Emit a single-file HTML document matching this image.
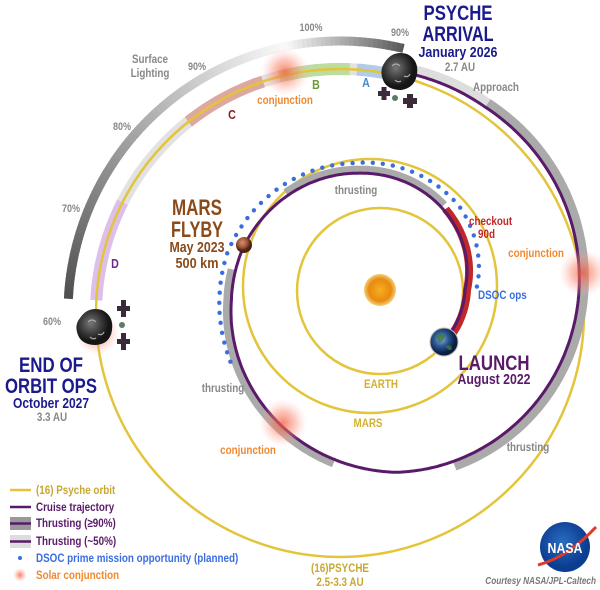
<!DOCTYPE html>
<html><head><meta charset="utf-8">
<style>
html,body{margin:0;padding:0;background:#fff;}
svg{display:block;}
text{font-family:"Liberation Sans",sans-serif;font-weight:bold;}
</style></head>
<body>
<svg id="s" width="600" height="590" viewBox="0 0 600 590" xmlns="http://www.w3.org/2000/svg">
<defs>
<radialGradient id="glow"><stop offset="0" stop-color="#f25a3a" stop-opacity="0.75"/><stop offset="0.5" stop-color="#f7856a" stop-opacity="0.45"/><stop offset="1" stop-color="#fbb" stop-opacity="0"/></radialGradient>
<radialGradient id="sun"><stop offset="0" stop-color="#f6b020"/><stop offset="0.7" stop-color="#e88a10"/><stop offset="1" stop-color="#f0c050" stop-opacity="0.8"/></radialGradient>
<radialGradient id="earth" cx="0.4" cy="0.4"><stop offset="0" stop-color="#8fb0d8"/><stop offset="0.5" stop-color="#2c5a98"/><stop offset="1" stop-color="#0c1e40"/></radialGradient>
<radialGradient id="mars" cx="0.4" cy="0.35"><stop offset="0" stop-color="#d89070"/><stop offset="0.6" stop-color="#a0583a"/><stop offset="1" stop-color="#4a2412"/></radialGradient>
<radialGradient id="ast" cx="0.4" cy="0.4"><stop offset="0" stop-color="#777"/><stop offset="0.6" stop-color="#3a3a3a"/><stop offset="1" stop-color="#151515"/></radialGradient>
<radialGradient id="nasa" cx="0.45" cy="0.4"><stop offset="0" stop-color="#2a6cc0"/><stop offset="1" stop-color="#0b3d91"/></radialGradient>
</defs>
<g id="g"></g>

<circle cx="285" cy="72" r="24" fill="url(#glow)"/>
<circle cx="583" cy="273" r="24" fill="url(#glow)"/>
<circle cx="283" cy="423" r="24" fill="url(#glow)"/>
<circle cx="97" cy="333" r="22" fill="url(#glow)"/>
<g id="g2"></g>

<circle cx="380" cy="290" r="16" fill="url(#sun)"/>
<circle cx="444" cy="342" r="14" fill="url(#earth)" stroke="#bbb" stroke-width="1"/>
<path d="M436,336 q5,-4 9,0 q-2,6 -6,7z M446,346 q5,-2 6,3 q-4,3 -6,-3z" fill="#3f7a3a" opacity="0.8"/>
<circle cx="244" cy="245" r="8" fill="url(#mars)"/>
<path d="M385,62 q8,-12 22,-8 q12,6 10,20 q-2,14 -16,16 q-14,0 -18,-10 q-4,-10 2,-18z" fill="url(#ast)"/>
<path d="M392,66 q4,-4 8,0 M404,76 q4,2 6,-2 M395,80 q3,3 6,1" stroke="#aaa" stroke-width="1.2" fill="none"/>
<path d="M80,318 q8,-12 22,-8 q12,6 10,20 q-2,14 -16,15 q-14,0 -18,-10 q-4,-10 2,-17z" fill="url(#ast)"/>
<path d="M88,322 q4,-4 8,0 M98,334 q4,2 6,-2 M90,337 q3,3 6,1" stroke="#aaa" stroke-width="1.2" fill="none"/>
<g fill="#3a2a3a">
<rect x="378" y="91" width="12" height="5"/><rect x="381.5" y="87" width="5" height="13"/>
<rect x="403" y="98" width="14" height="6"/><rect x="407" y="94" width="6" height="14"/>
<rect x="117" y="306" width="13" height="5"/><rect x="121" y="300" width="5" height="17"/>
<rect x="117" y="339" width="13" height="5"/><rect x="121" y="333" width="5" height="17"/>
</g>
<circle cx="395" cy="98" r="3" fill="#5a7a6a"/>
<circle cx="122" cy="325" r="3" fill="#5a7a6a"/>

<g fill="#888" font-size="11" text-anchor="middle">
<text x="311" y="31">100%</text>
<text x="400" y="36">90%</text>
<text x="197" y="70">90%</text>
<text x="122" y="130">80%</text>
<text x="71" y="212">70%</text>
<text x="52" y="325">60%</text>
<text x="150" y="63" font-size="12">Surface</text>
<text x="150" y="77" font-size="12">Lighting</text>
<text x="496" y="91" font-size="12">Approach</text>
<text x="356" y="194" font-size="12">thrusting</text>
<text x="223" y="392" font-size="12">thrusting</text>
<text x="528" y="451" font-size="12">thrusting</text>
<text x="460" y="71" font-size="12">2.7 AU</text>
<text x="52" y="421" font-size="12">3.3 AU</text>
</g>
<g text-anchor="middle" font-size="13">
<text x="366" y="87" fill="#4a8ad0">A</text>
<text x="316" y="89" fill="#6a9a3a">B</text>
<text x="232" y="119" fill="#8a1a1a">C</text>
<text x="115" y="268" fill="#6a2a8a">D</text>
</g>
<g fill="#f08a30" font-size="12" text-anchor="middle">
<text x="285" y="104">conjunction</text>
<text x="536" y="257">conjunction</text>
<text x="248" y="454">conjunction</text>
</g>
<text x="469" y="225" fill="#c0282a" font-size="12">checkout</text>
<text x="478" y="238" fill="#c0282a" font-size="12">90d</text>
<text x="478" y="299" fill="#3a6ee0" font-size="12">DSOC ops</text>
<text x="381" y="388" fill="#d4b030" font-size="12" text-anchor="middle">EARTH</text>
<text x="368" y="427" fill="#d4b030" font-size="12" text-anchor="middle">MARS</text>

<g fill="#1a1a8c" text-anchor="middle" lengthAdjust="spacingAndGlyphs">
<text x="458" y="20" font-size="21" textLength="69" lengthAdjust="spacingAndGlyphs">PSYCHE</text>
<text x="458" y="41" font-size="21" textLength="71" lengthAdjust="spacingAndGlyphs">ARRIVAL</text>
<text x="458" y="57" font-size="15" textLength="79" lengthAdjust="spacingAndGlyphs">January 2026</text>
<text x="51" y="372" font-size="21" textLength="64" lengthAdjust="spacingAndGlyphs">END OF</text>
<text x="51" y="393" font-size="21" textLength="92" lengthAdjust="spacingAndGlyphs">ORBIT OPS</text>
<text x="51" y="408" font-size="15" textLength="76" lengthAdjust="spacingAndGlyphs">October 2027</text>
</g>
<g fill="#8a4a1a" text-anchor="middle">
<text x="197" y="215" font-size="22" textLength="50" lengthAdjust="spacingAndGlyphs">MARS</text>
<text x="197" y="237" font-size="22" textLength="52" lengthAdjust="spacingAndGlyphs">FLYBY</text>
<text x="197" y="252" font-size="15" textLength="55" lengthAdjust="spacingAndGlyphs">May 2023</text>
<text x="197" y="268" font-size="15" textLength="43" lengthAdjust="spacingAndGlyphs">500 km</text>
</g>
<g fill="#5a1a6a" text-anchor="middle">
<text x="494" y="370" font-size="21" textLength="71" lengthAdjust="spacingAndGlyphs">LAUNCH</text>
<text x="494" y="384" font-size="15" textLength="73" lengthAdjust="spacingAndGlyphs">August 2022</text>
</g>

<line x1="10" y1="490" x2="31" y2="490" stroke="#e3c43a" stroke-width="2.5"/>
<line x1="10" y1="507" x2="31" y2="507" stroke="#5a1a6a" stroke-width="2.5"/>
<rect x="10" y="517" width="21" height="13" fill="#999"/>
<line x1="10" y1="523.5" x2="31" y2="523.5" stroke="#5a1a6a" stroke-width="2.5"/>
<rect x="10" y="535" width="21" height="13" fill="#ddd"/>
<line x1="10" y1="541.5" x2="31" y2="541.5" stroke="#5a1a6a" stroke-width="2.5"/>
<circle cx="20" cy="558" r="2" fill="#3a6ee0"/>
<circle cx="20" cy="575" r="7" fill="url(#glow)"/>
<g font-size="12">
<text x="36" y="494" fill="#c8a830">(16) Psyche orbit</text>
<text x="36" y="511" fill="#5a1a6a">Cruise trajectory</text>
<text x="36" y="527" fill="#5a1a6a">Thrusting (≥90%)</text>
<text x="36" y="545" fill="#5a1a6a">Thrusting (~50%)</text>
<text x="36" y="562" fill="#3a6ee0">DSOC prime mission opportunity (planned)</text>
<text x="36" y="579" fill="#f08a30">Solar conjunction</text>
</g>
<text x="340" y="572" fill="#c8a830" font-size="12" text-anchor="middle">(16)PSYCHE</text>
<text x="340" y="586" fill="#c8a830" font-size="12" text-anchor="middle">2.5-3.3 AU</text>
<text x="596" y="584" fill="#777" font-size="10" font-weight="normal" font-style="italic" text-anchor="end">Courtesy NASA/JPL-Caltech</text>
<circle cx="565" cy="547" r="25" fill="url(#nasa)"/>
<path d="M538,565 q30,-8 58,-38" stroke="#e03a2a" stroke-width="3" fill="none"/>
<text x="565" y="553" fill="#fff" font-size="15" text-anchor="middle">NASA</text>
</svg>
<script>
(function(){
var NS="http://www.w3.org/2000/svg",g=document.getElementById('g'),g2=document.getElementById('g2');
function el(p,t,a){var e=document.createElementNS(NS,t);for(var k in a)e.setAttribute(k,a[k]);p.appendChild(e);return e;}
function rad(a){return a*Math.PI/180;}
function arc(cx,cy,r,a0,a1){var s="",n=Math.max(2,Math.ceil(Math.abs(a1-a0)));for(var i=0;i<=n;i++){var a=rad(a0+(a1-a0)*i/n);s+=(i?"L":"M")+(cx+r*Math.cos(a)).toFixed(1)+","+(cy+r*Math.sin(a)).toFixed(1);}return s;}
var PX=340,PY=313;
for(var a=183;a<283.5;a+=1){
  var v;
  if(a<258){v=80+(a-183)/(258-183)*170;} else {v=250-(a-258)/(283.5-258)*165;}
  v=Math.round(Math.min(248,v));
  el(g,'path',{d:arc(PX,PY,272,a,Math.min(a+1.3,283.5)),stroke:'rgb('+v+','+v+','+v+')','stroke-width':9,fill:'none'});
}
el(g,'path',{d:arc(PX,PY,244,183,282),stroke:'#e2e2e2','stroke-width':12,fill:'none'});
el(g,'path',{d:arc(PX,PY,244,183,207),stroke:'#dcc0ea','stroke-width':12,fill:'none'});
el(g,'path',{d:arc(PX,PY,244,231.6,251.6),stroke:'#dca8a0','stroke-width':12,fill:'none'});
el(g,'path',{d:arc(PX,PY,244,255.6,272.3),stroke:'#bcdca0','stroke-width':12,fill:'none'});
el(g,'path',{d:arc(PX,PY,244,274,280.5),stroke:'#b0cce8','stroke-width':12,fill:'none'});
el(g,'circle',{cx:PX,cy:PY,r:244,stroke:'#e3c43a','stroke-width':2.5,fill:'none'});
el(g,'circle',{cx:380,cy:291,r:83,stroke:'#e3c43a','stroke-width':2.5,fill:'none'});
el(g,'circle',{cx:370,cy:286,r:127,stroke:'#e3c43a','stroke-width':2.5,fill:'none'});
var SX=380,SY=290;
var N=[[39,82],[0,85],[-101,119],[-162,143],[-184,149],[-275,183],[-360,199],[-420,211],[-444,219]];
function R(a,nodes){for(var i=0;i<nodes.length-1;i++){var p=nodes[i],q=nodes[i+1];if(a<=p[0]&&a>=q[0]){return p[1]+(q[1]-p[1])*(p[0]-a)/(p[0]-q[0]);}}return nodes[nodes.length-1][1];}
function sp(a0,a1,off){var s="",n=Math.ceil(Math.abs(a1-a0));for(var i=0;i<=n;i++){var a=a0+(a1-a0)*i/n,r=R(a,N)+off;s+=(i?"L":"M")+(SX+r*Math.cos(rad(a))).toFixed(1)+","+(SY+r*Math.sin(rad(a))).toFixed(1);}return s;}
el(g,'path',{d:sp(-134,-53,4),stroke:'#aaa','stroke-width':7,fill:'none'});
el(g,'path',{d:sp(-172,-255,4),stroke:'#aaa','stroke-width':8,fill:'none'});
el(g,'path',{d:sp(-293,-420,5),stroke:'#aaa','stroke-width':9,fill:'none'});
el(g,'path',{d:sp(-420,-442,5),stroke:'#ddd','stroke-width':9,fill:'none'});
el(g,'path',{d:sp(36,-51,2),stroke:'#c0282a','stroke-width':8,fill:'none'});
el(g,'path',{d:sp(39,-444,0),stroke:'#5a1a6a','stroke-width':3,fill:'none'});
var D=[[-2,97],[-46,115],[-103,130],[-166,157],[-206,166]];
var a=-2;
while(a>=-206){var r=R(a,D);el(g2,'circle',{cx:(SX+r*Math.cos(rad(a))).toFixed(1),cy:(SY+r*Math.sin(rad(a))).toFixed(1),r:2.2,fill:'#3a6ee0'});a-=10/r*180/Math.PI;}
// narrow all text lacking explicit length
var ts=document.querySelectorAll('text');
for(var i=0;i<ts.length;i++){var t=ts[i];if(!t.hasAttribute('textLength')){var L=t.getComputedTextLength();t.setAttribute('textLength',(L*0.82).toFixed(1));t.setAttribute('lengthAdjust','spacingAndGlyphs');}}
})();
</script>
</body></html>
